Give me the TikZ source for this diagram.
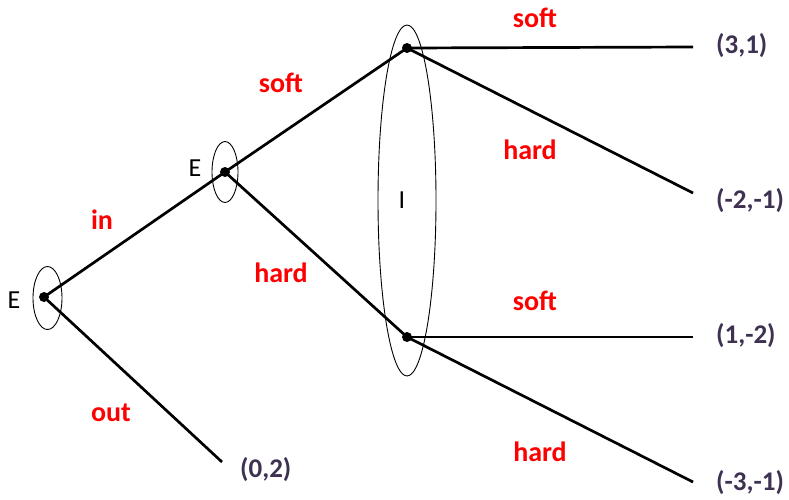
\documentclass[tikz,border=0pt]{standalone}
\usepackage{fontspec}
\setmainfont{Carlito}
\usepackage{tikz}
\usetikzlibrary{shapes.geometric,positioning}
\definecolor{actred}{HTML}{FF0000}
\definecolor{payplum}{HTML}{3F3151}
\tikzset{
  mv/.style={line width=2.7pt, draw=black},
  dot/.style={circle, fill=black, inner sep=0pt, minimum size=10pt},
  infoset/.style={ellipse, draw=black, line width=0.9pt, inner sep=0pt},
  act/.style={font=\fontsize{28}{32}\selectfont\bfseries, text=actred},
  pay/.style={font=\fontsize{27}{31}\selectfont\bfseries, text=payplum,
              anchor=west, inner sep=0pt},
  plyr/.style={font=\fontsize{26}{30}\selectfont},
}

\begin{document}
\begin{tikzpicture}[x=1pt,y=-1pt]
\useasboundingbox (0,0) rectangle (789,499);

% ------------------------- information sets -----------------------------
\node[infoset, minimum width=29pt, minimum height=63pt]  at (47.5,298) (s0) {};
\node[infoset, minimum width=26pt, minimum height=61pt]  at (225,172)  (s1) {};
\node[infoset, minimum width=58pt, minimum height=351pt] at (407,200.5) (s2) {};
\node[plyr] at (14,300)  (p0) {E};
\node[plyr] at (195,168) (p1) {E};
\node[plyr] at (402,200) (p2) {I};

% ------------------------- decision points ------------------------------
\node[dot] at (44,297)  (root) {};
\node[dot] at (225,172) (e) {};
\node[dot] at (407,48)  (iS) {};
\node[dot] at (407,337) (iH) {};

% ------------------------- terminal points ------------------------------
\coordinate (zo) at (222,462);
\coordinate (z1) at (693,47);
\coordinate (z2) at (693,193);
\coordinate (z3) at (693,337);
\coordinate (z4) at (693,482);

% ------------------------- moves ----------------------------------------
\draw[mv] (root.center) -- (e.center);
\draw[mv] (root.center) -- (zo);
\draw[mv] (e.center) -- (iS.center);
\draw[mv] (e.center) -- (iH.center);
\draw[mv] (iS.center) -- (z1);
\draw[mv] (iS.center) -- (z2);
\draw[mv] (iH.center) -- (z3);
\draw[mv] (iH.center) -- (z4);

% ------------------------- action labels --------------------------------
\node[act] at (102,220) (a1) {in};
\node[act] at (111,413) (a2) {out};
\node[act] at (281,83)  (a3) {soft};
\node[act] at (281,273) (a4) {hard};
\node[act] at (535,18)  (a5) {soft};
\node[act] at (530,150) (a6) {hard};
\node[act] at (535,301) (a7) {soft};
\node[act] at (540,452) (a8) {hard};

% ------------------------- payoffs --------------------------------------
\node[pay] at (716,46)  (u1) {(3,1)};
\node[pay] at (716,201) (u2) {(-2,-1)};
\node[pay] at (716,336) (u3) {(1,-2)};
\node[pay] at (716,483) (u4) {(-3,-1)};
\node[pay] at (240,470) (u0) {(0,2)};
\end{tikzpicture}
\end{document}
